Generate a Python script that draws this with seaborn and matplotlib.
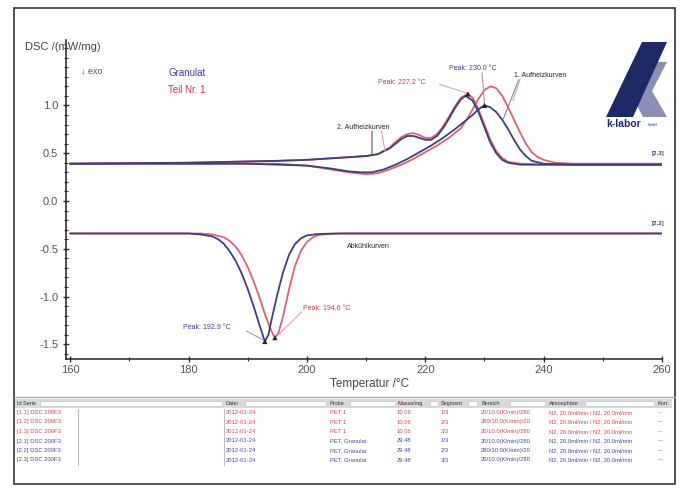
import matplotlib.pyplot as plt
import matplotlib.patches as mpatches
from matplotlib.ticker import MultipleLocator
import seaborn as sns
import pandas as pd

# 1. Aufheizung Granulat (blau)
temp_blue_h1 = [160, 190, 200, 204, 207, 209, 211, 213, 215, 217, 219, 221, 223, 225, 227, 228, 229, 230,
                231, 232, 233, 234, 235, 236, 237, 238, 240, 245, 260]
dsc_blue_h1 = [0.39, 0.39, 0.37, 0.34, 0.31, 0.30, 0.30, 0.33, 0.38, 0.44, 0.51, 0.58, 0.66, 0.75, 0.85, 0.90,
               0.96, 1.00, 0.98, 0.93, 0.85, 0.75, 0.64, 0.54, 0.47, 0.42, 0.39, 0.38, 0.38]

# 1. Aufheizung Teil Nr. 1 (rot)
temp_red_h1 = [160, 195, 200, 204, 207, 210, 212, 214, 216, 218, 220, 222, 224, 226, 227, 228, 229, 230, 231,
               232, 233, 234, 235, 236, 237, 238, 239, 240, 242, 245, 260]
dsc_red_h1 = [0.39, 0.39, 0.37, 0.33, 0.30, 0.28, 0.29, 0.33, 0.38, 0.44, 0.51, 0.58, 0.66, 0.76, 0.85, 0.96,
              1.07, 1.16, 1.20, 1.18, 1.10, 0.98, 0.85, 0.72, 0.60, 0.51, 0.46, 0.43, 0.40, 0.39, 0.39]

# 2. Aufheizung Granulat (blau)
temp_blue_h2 = [160, 180, 195, 200, 205, 210, 212, 214, 215, 216, 217, 218, 219, 220, 221, 222, 223, 224, 225,
                226, 226.8, 228, 229, 230, 231, 232, 233, 234, 236, 240, 260]
dsc_blue_h2 = [0.39, 0.40, 0.42, 0.43, 0.45, 0.47, 0.49, 0.55, 0.60, 0.65, 0.68, 0.68, 0.66, 0.64, 0.64, 0.68,
               0.76, 0.86, 0.97, 1.06, 1.10, 1.05, 0.93, 0.77, 0.61, 0.50, 0.43, 0.40, 0.38, 0.38, 0.38]

# 2. Aufheizung Teil Nr. 1 (rot)
temp_red_h2 = [160, 180, 195, 200, 205, 210, 212, 214, 215, 216, 217, 218, 219, 220, 221, 222, 223, 224, 225,
               226, 227.2, 228, 229, 230, 231, 232, 233, 234, 236, 240, 260]
dsc_red_h2 = [0.39, 0.40, 0.42, 0.43, 0.45, 0.47, 0.49, 0.56, 0.62, 0.67, 0.70, 0.71, 0.69, 0.66, 0.66, 0.70,
              0.78, 0.88, 0.99, 1.08, 1.12, 1.08, 0.96, 0.80, 0.64, 0.52, 0.45, 0.41, 0.39, 0.38, 0.38]

# Abkühlung
temp_blue_c = [160, 180, 182, 184, 185, 186, 187, 188, 189, 190, 191, 192, 192.9, 193.5, 194, 195, 196, 197,
               198, 199, 200, 202, 205, 260]
dsc_blue_c = [-0.34, -0.34, -0.35, -0.37, -0.40, -0.45, -0.53, -0.63, -0.76, -0.92, -1.10, -1.30, -1.47, -1.40,
              -1.25, -0.98, -0.74, -0.56, -0.45, -0.39, -0.36, -0.345, -0.34, -0.34]
temp_red_c = [160, 182, 184, 186, 187, 188, 189, 190, 191, 192, 193, 194, 194.6, 195.2, 196, 197, 198, 199,
              200, 201, 202, 204, 206, 260]
dsc_red_c = [-0.34, -0.34, -0.35, -0.38, -0.42, -0.48, -0.57, -0.69, -0.84, -1.01, -1.20, -1.36, -1.43, -1.38,
             -1.20, -0.92, -0.68, -0.52, -0.43, -0.38, -0.355, -0.345, -0.34, -0.34]

# Peaks
peak_temps = [230.0, 227.2, 192.9, 194.6]
peak_vals = [1.00, 1.12, -1.47, -1.43]

# Tabelle
col_names = ["Id Serie", "Datei", "Probe", "Masse/mg", "Segment", "Bereich", "Atmosphäre", "Korr."]
row_ids = ["[1.1] DSC 200F3", "[1.2] DSC 200F3", "[1.3] DSC 200F3",
           "[2.1] DSC 200F3", "[2.2] DSC 200F3", "[2.3] DSC 200F3"]
row_dates = ["2012-01-24"] * 6
row_probe = ["PET 1"] * 3 + ["PET, Granulat"] * 3
row_mass = ["10.06"] * 3 + ["29.48"] * 3
row_segment = ["1/3", "2/3", "3/3"] * 2
row_range = ["20/10.0(K/min)/280", "280/10.0(K/min)/20", "20/10.0(K/min)/280"] * 2
row_atm = ["N2, 20.0ml/min / N2, 20.0ml/min"] * 6
row_korr = ["---"] * 6

BLUE = "#3b3f7e"
RED = "#dc6270"
W, H = 683, 493


def px(x, y):
    return x / W, 1 - y / H


sns.set_theme(style="white")
plt.rcParams['font.family'] = ['Liberation Sans', 'DejaVu Sans']

fig = plt.figure(figsize=(6.83, 4.93), dpi=100)
ax = fig.add_axes([66 / W, 1 - 359 / H, (662 - 66) / W, (359 - 40) / H])

curves = [(temp_red_h1, dsc_red_h1, RED), (temp_red_h2, dsc_red_h2, RED), (temp_red_c, dsc_red_c, RED),
          (temp_blue_h1, dsc_blue_h1, BLUE), (temp_blue_h2, dsc_blue_h2, BLUE), (temp_blue_c, dsc_blue_c, BLUE)]
for t, d, c in curves:
    df = pd.DataFrame({"T": t, "DSC": d})
    sns.lineplot(data=df, x="T", y="DSC", color=c, lw=1.3, estimator=None, sort=False, ax=ax)

sns.scatterplot(x=peak_temps, y=peak_vals, marker="^", s=14, color="#222222", edgecolor="none", ax=ax, zorder=5)

ax.set_xlim(159.3, 260)
ax.set_ylim(-1.653, 1.684)
ax.xaxis.set_major_locator(MultipleLocator(20))
ax.xaxis.set_minor_locator(MultipleLocator(10))
ax.yaxis.set_major_locator(MultipleLocator(0.5))
ax.yaxis.set_minor_locator(MultipleLocator(0.1))
ax.set_yticks([1.0, 0.5, 0.0, -0.5, -1.0, -1.5])
ax.set_yticklabels(["1.0", "0.5", "0.0", "-0.5", "-1.0", "-1.5"])
ax.tick_params(axis="both", which="major", direction="inout", length=4, width=1, colors="#333333",
               labelsize=8, labelcolor="#555555", left=True, bottom=True)
ax.tick_params(axis="both", which="minor", direction="inout", length=2.5, width=0.8, colors="#333333",
               left=True, bottom=True)
ax.tick_params(axis="x", pad=2)
for s in ["top", "right"]:
    ax.spines[s].set_visible(False)
for s in ["left", "bottom"]:
    ax.spines[s].set_color("#222222")
    ax.spines[s].set_linewidth(1.1)
ax.set_xlabel("Temperatur /°C", fontsize=8.5, color="#444444", labelpad=1)
ax.set_ylabel("")
ax.xaxis.set_label_coords(0.51, -0.058)

# Beschriftungen im Diagramm
ax.text(161.8, 1.36, "↓ exo", fontsize=6.5, color="#555555", va="center")
ax.text(176.6, 1.34, "Granulat", fontsize=7, color="#3d3d99", va="center")
ax.text(176.6, 1.16, "Teil Nr. 1", fontsize=7, color="#cc3344", va="center")
ax.text(228.1, 1.385, "Peak: 230.0 °C", fontsize=5, color="#3d3d99", ha="center", va="center")
ax.text(216.0, 1.24, "Peak: 227.2 °C", fontsize=5, color="#cc3344", ha="center", va="center")
ax.text(235.0, 1.31, "1. Aufheizkurven", fontsize=5, color="#222222", va="center")
ax.text(205.1, 0.77, "2. Aufheizkurven", fontsize=5, color="#222222", va="center")
ax.text(206.8, -0.48, "Abkühlkurven", fontsize=5, color="#222222", va="center")
ax.text(179.0, -1.32, "Peak: 192.9 °C", fontsize=5, color="#3d3d99", va="center")
ax.text(199.3, -1.125, "Peak: 194.6 °C", fontsize=5, color="#cc3344", va="center")
ax.text(258.3, 0.50, "[2.3]", fontsize=4.5, color="#3d3d99", va="center", fontweight="bold")
ax.text(258.3, -0.24, "[2.2]", fontsize=4.5, color="#3d3d99", va="center", fontweight="bold")

# Hinweislinien
leaders = [((229.6, 1.34), (230.0, 1.02), "#9a9ac0"), ((222.4, 1.22), (227.0, 1.13), "#e8a0a8"),
           ((235.8, 1.27), (233.2, 0.86), "#888888"), ((236.0, 1.27), (234.8, 1.05), "#e8a0a8"),
           ((211.0, 0.73), (211.0, 0.48), "#555555"), ((212.6, 0.73), (213.2, 0.52), "#e8a0a8"),
           ((189.8, -1.36), (192.8, -1.46), "#9a9ac0"), ((199.1, -1.16), (195.0, -1.41), "#e8a0a8")]
for (x0, y0), (x1, y1), c in leaders:
    ax.annotate("", xy=(x1, y1), xytext=(x0, y0),
                arrowprops=dict(arrowstyle="-", color=c, lw=0.8, shrinkA=0, shrinkB=0))

fig.text(*px(25, 47), "DSC /(mW/mg)", fontsize=8, color="#444444", va="center")

# Logo
fig.add_artist(mpatches.Polygon([px(650, 62), px(667, 62), px(652, 91), px(667, 117), px(643, 117), px(630, 92)],
                                closed=True, transform=fig.transFigure, color="#8c8eb5", lw=0))
fig.add_artist(mpatches.Polygon([px(642, 42), px(667, 42), px(633, 117), px(606, 117)],
                                closed=True, transform=fig.transFigure, color="#1e2a66", lw=0))
fig.text(*px(606, 124), "k-labor", fontsize=7.5, fontweight="bold", color="#1e2a66", va="center")
fig.text(*px(648, 125), "GmbH", fontsize=2.5, color="#1e2a66", va="center")

# Rahmen
fig.add_artist(mpatches.Rectangle(px(14, 484), (675 - 14) / W, (484 - 8) / H, transform=fig.transFigure,
                                  fill=False, edgecolor="#333333", lw=1.2))

# Tabelle
fig.add_artist(plt.Line2D([14 / W, 675 / W], [1 - 397 / H, 1 - 397 / H], transform=fig.transFigure,
                          color="#aaaaaa", lw=1))
fig.add_artist(mpatches.Rectangle(px(15, 408), (672 - 15) / W, 9 / H, transform=fig.transFigure,
                                  color="#d9d9d9", lw=0))
col_x = [17, 226, 330, 397, 441, 481, 549, 658]
box_spans = [(40, 222), (245, 326), (350, 395), (430, 438), (468, 477), (510, 545), (585, 654)]
for x0, x1 in box_spans:
    fig.add_artist(mpatches.Rectangle(px(x0, 406), (x1 - x0) / W, 5 / H, transform=fig.transFigure,
                                      facecolor="white", edgecolor="#bbbbbb", lw=0.4))
for name, x in zip(col_names, col_x):
    fig.text(*px(x, 403.5), name, fontsize=4, color="#333333", va="center")
for x in [78, 224]:
    fig.add_artist(plt.Line2D([x / W, x / W], [1 - 409 / H, 1 - 465 / H], transform=fig.transFigure,
                              color="#bbbbbb", lw=0.8))
for i in range(6):
    y = 412.5 + i * 9.5
    c = "#d04552" if i < 3 else "#4548a0"
    cells = [row_ids[i], row_dates[i], row_probe[i], row_mass[i], row_segment[i], row_range[i], row_atm[i],
             row_korr[i]]
    for txt, x in zip(cells, col_x):
        fig.text(*px(x, y), txt, fontsize=4.2, color=c, va="center")

fig.savefig("out.png", dpi=100)
